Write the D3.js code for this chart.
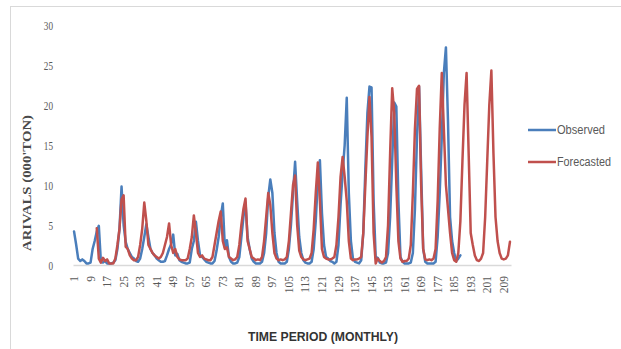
<!DOCTYPE html>
<html>
<head>
<meta charset="utf-8">
<script src="https://cdn.jsdelivr.net/npm/d3@7"></script>
<style>
    body { margin: 0; background: #fff; }
    svg { display: block; }
</style>
</head>
<body>
<svg id="chart" width="621" height="349"></svg>
<script>
// month index 1..212
var months = d3.range(1, 213);
var tickLabels = [1, 9, 17, 25, 33, 41, 49, 57, 65, 73, 81, 89, 97, 105, 113, 121, 129, 137, 145, 153, 161, 169, 177, 185, 193, 201, 209];
var yTicks = [0, 5, 10, 15, 20, 25, 30];

var observed = [
    4.2, 2.6, 0.8, 0.5, 0.7, 0.5, 0.2, 0.2, 0.3, 2.0, 3.0, 4.2,
    4.9, 0.4, 0.3, 0.5, 0.2, 0.2, 0.2, 0.3, 0.6, 2.0, 4.5, 9.8,
    5.0, 2.9, 2.0, 1.5, 1.0, 0.8, 0.5, 0.4, 0.8, 2.0, 3.5, 5.1,
    3.5, 2.0, 1.5, 1.2, 0.8, 0.6, 0.4, 0.4, 0.5, 1.2, 2.0, 2.6,
    3.8, 1.2, 1.4, 0.6, 0.4, 0.3, 0.2, 0.2, 0.3, 2.0, 3.0, 5.4,
    3.0, 1.2, 1.0, 0.7, 0.4, 0.3, 0.2, 0.2, 0.5, 1.8, 3.5, 6.0,
    7.7, 2.2, 3.1, 1.0, 0.4, 0.2, 0.2, 0.3, 1.0, 3.5, 6.0, 7.8,
    3.5, 2.0, 0.8, 0.4, 0.2, 0.2, 0.2, 0.4, 1.5, 4.0, 8.5, 10.7,
    9.0, 4.0, 1.5, 0.4, 0.2, 0.2, 0.2, 0.4, 2.0, 5.0, 9.0, 12.9,
    8.0, 3.5, 1.5, 0.6, 0.3, 0.2, 0.2, 0.4, 2.0, 5.5, 10.5, 13.1,
    6.5, 2.5, 1.0, 0.8, 0.5, 0.4, 0.2, 0.4, 2.5, 7.5, 11.5, 15.0,
    20.9, 9.0, 3.0, 0.8, 0.4, 0.3, 0.2, 0.6, 4.0, 12.0, 19.0, 22.3,
    22.2, 8.0, 1.0, 0.9, 0.3, 0.2, 0.2, 0.3, 1.5, 6.0, 13.0, 20.3,
    19.8, 8.0, 1.0, 0.4, 0.2, 0.2, 0.2, 0.3, 1.5, 7.0, 16.0, 22.3,
    12.0, 2.0, 0.4, 0.2, 0.2, 0.2, 0.2, 0.4, 3.5, 9.0, 16.0, 24.0,
    27.2, 18.0, 6.0, 3.0, 1.5, 0.5, 0.8, 1.2
];

// forecast starts at month 12
var forecasted = [
    null, null, null, null, null, null, null, null, null, null, null, 4.6,
    0.8, 0.3, 0.9, 0.5, 0.7, 0.2, 0.2, 0.2, 0.8, 2.5, 4.5, 8.2,
    8.7, 2.3, 2.0, 1.2, 0.8, 0.6, 0.6, 1.0, 2.5, 4.5, 7.8, 5.5,
    2.5, 2.0, 1.5, 1.2, 1.0, 0.8, 1.0, 1.5, 2.5, 3.5, 5.2, 2.5,
    1.5, 2.0, 1.0, 0.7, 0.6, 0.6, 0.6, 0.8, 2.0, 3.5, 6.2, 4.0,
    1.5, 1.0, 1.2, 0.8, 0.7, 0.6, 0.6, 1.0, 2.5, 4.0, 5.5, 6.7,
    3.0, 2.0, 2.2, 1.0, 0.8, 0.6, 0.7, 1.0, 2.5, 5.0, 7.0, 8.3,
    3.0, 2.0, 1.0, 0.8, 0.6, 0.7, 0.6, 1.0, 3.0, 6.0, 9.0, 7.5,
    4.0, 1.5, 0.8, 0.6, 0.7, 0.6, 0.7, 1.0, 3.0, 6.5, 10.0, 11.2,
    5.0, 1.8, 1.0, 0.7, 0.6, 0.7, 0.8, 1.5, 4.5, 9.0, 12.8, 8.0,
    2.0, 1.0, 0.8, 0.7, 0.7, 0.8, 1.0, 2.5, 6.0, 11.0, 13.5, 11.0,
    8.0, 3.0, 0.8, 0.6, 0.7, 0.7, 0.8, 1.0, 4.0, 10.0, 16.0, 21.0,
    16.0, 4.0, 0.2, 0.8, 0.5, 0.3, 0.5, 1.0, 5.0, 14.0, 22.1, 19.0,
    10.0, 3.0, 0.8, 0.4, 0.5, 0.5, 0.8, 2.5, 9.0, 17.0, 22.0, 22.4,
    10.0, 2.0, 0.7, 0.6, 0.7, 0.6, 0.8, 2.0, 8.0, 17.0, 24.0, 17.0,
    10.0, 7.0, 4.0, 1.5, 0.6, 0.4, 1.5, 5.5, 13.0, 20.0, 24.0, 14.0,
    4.0, 2.5, 1.2, 0.6, 0.5, 0.8, 1.5, 6.0, 13.0, 20.0, 24.3, 14.0,
    6.0, 3.0, 1.5, 0.8, 0.7, 0.8, 1.2, 2.9
];

var seriesNames = ["Observed", "Forecasted"];
var seriesColors = ["#4A7EBB", "#C0504D"];

var svg = d3.select("#chart");
var textGray = "#595959";

// outer chart border (only top/left fall inside the picture)
svg.append("rect")
    .attr("x", 10.5)
    .attr("y", 6.5)
    .attr("width", 640)
    .attr("height", 360)
    .attr("fill", "none")
    .attr("stroke", "#D9D9D9");

var x = d3.scaleBand()
    .domain(months)
    .range([73, 511])
    .padding(0);

var y = d3.scaleLinear()
    .domain([0, 30])
    .range([265, 25]);

var xPos = function (m) { return x(m) + x.bandwidth() / 2; };

// y axis labels
var yAxis = svg.append("g")
    .attr("transform", "translate(55,0)")
    .call(d3.axisLeft(y).tickValues(yTicks).tickSize(0).tickPadding(2));
yAxis.select(".domain").remove();
yAxis.selectAll("text")
    .attr("fill", textGray)
    .style("font-family", "'Liberation Serif', serif")
    .style("font-size", "13.5px")
    .attr("lengthAdjust", "spacingAndGlyphs")
    .attr("textLength", function (d) { return String(d).length * 4.6; });

// x axis
var xAxis = svg.append("g")
    .attr("transform", "translate(0,265)")
    .call(d3.axisBottom(x).tickValues(tickLabels).tickSize(0));
xAxis.select(".domain")
    .attr("stroke", "#D9D9D9")
    .attr("stroke-width", 1.5);
xAxis.selectAll("text")
    .attr("fill", textGray)
    .style("font-family", "'Liberation Serif', serif")
    .style("font-size", "11.5px")
    .attr("text-anchor", "end")
    .attr("transform", "rotate(-90)")
    .attr("x", -11)
    .attr("y", 0)
    .attr("dy", "0.35em");

var line = d3.line()
    .defined(function (d) { return d.v != null; })
    .x(function (d) { return xPos(d.m); })
    .y(function (d) { return y(d.v); });

[observed, forecasted].forEach(function (series, k) {
    var pts = months.map(function (m, i) {
        return { m: m, v: i < series.length ? series[i] : null };
    });
    svg.append("path")
        .datum(pts)
        .attr("fill", "none")
        .attr("stroke", seriesColors[k])
        .attr("stroke-width", 2.5)
        .attr("stroke-linejoin", "round")
        .attr("stroke-linecap", "round")
        .attr("d", line);
});

// axis titles
svg.append("text")
    .attr("transform", "translate(31,183) rotate(-90)")
    .attr("text-anchor", "middle")
    .attr("fill", "#4a4a4a")
    .style("font-family", "'Liberation Serif', serif")
    .style("font-weight", "bold")
    .style("font-size", "12.5px")
    .attr("textLength", 136)
    .attr("lengthAdjust", "spacingAndGlyphs")
    .text("ARIVALS (000'TON)");

svg.append("text")
    .attr("x", 323)
    .attr("y", 341)
    .attr("text-anchor", "middle")
    .attr("fill", "#333333")
    .style("font-family", "'Liberation Sans', sans-serif")
    .style("font-weight", "bold")
    .style("font-size", "13.5px")
    .attr("textLength", 150)
    .attr("lengthAdjust", "spacingAndGlyphs")
    .text("TIME PERIOD (MONTHLY)");

// legend
var legend = svg.append("g");
var legendY = [130, 162];
var legendWidths = [48, 54];
seriesNames.forEach(function (name, k) {
    legend.append("line")
        .attr("x1", 528)
        .attr("x2", 556)
        .attr("y1", legendY[k])
        .attr("y2", legendY[k])
        .attr("stroke", seriesColors[k])
        .attr("stroke-width", 2.5);
    legend.append("text")
        .attr("x", 557)
        .attr("y", legendY[k])
        .attr("dy", "0.35em")
        .attr("fill", textGray)
        .style("font-family", "'Liberation Sans', sans-serif")
        .style("font-size", "12px")
        .attr("textLength", legendWidths[k])
        .attr("lengthAdjust", "spacingAndGlyphs")
        .text(name);
});
</script>
</body>
</html>
